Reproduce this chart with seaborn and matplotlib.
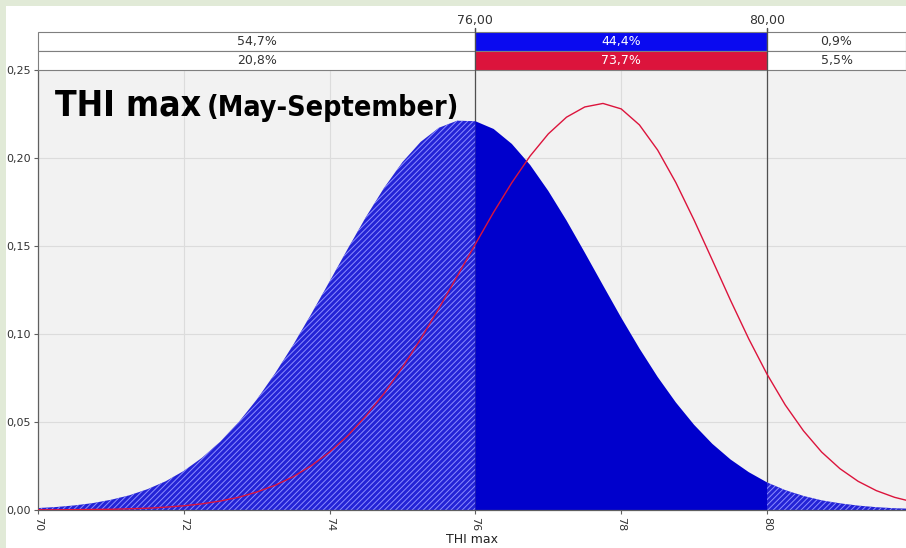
import numpy as np
import pandas as pd
import seaborn as sns
import matplotlib
matplotlib.use("Agg")
import matplotlib.pyplot as plt
from matplotlib.patches import Rectangle
from matplotlib import font_manager as fm

# ---------------- data ----------------
x_values = [70.0, 70.25, 70.5, 70.75, 71.0, 71.25, 71.5, 71.75, 72.0, 72.25, 72.5, 72.75,
            73.0, 73.25, 73.5, 73.75, 74.0, 74.25, 74.5, 74.75, 75.0, 75.25, 75.5, 75.75,
            76.0, 76.25, 76.5, 76.75, 77.0, 77.25, 77.5, 77.75, 78.0, 78.25, 78.5, 78.75,
            79.0, 79.25, 79.5, 79.75, 80.0, 80.25, 80.5, 80.75, 81.0, 81.25, 81.5, 81.75, 82.0]

blue_density = [0.0011, 0.0017, 0.0026, 0.0039, 0.0058, 0.0083, 0.0118, 0.0163, 0.0222, 0.0297,
                0.0388, 0.0498, 0.0627, 0.0775, 0.0938, 0.1115, 0.1299, 0.1485, 0.1666, 0.1832,
                0.1977, 0.2092, 0.2172, 0.2212, 0.2209, 0.2165, 0.2080, 0.1961, 0.1813, 0.1645,
                0.1463, 0.1277, 0.1093, 0.0918, 0.0756, 0.0611, 0.0484, 0.0376, 0.0287, 0.0215,
                0.0157, 0.0113, 0.0080, 0.0055, 0.0038, 0.0025, 0.0016, 0.0010, 0.0007]

red_density = [0.0001, 0.0001, 0.0002, 0.0003, 0.0004, 0.0007, 0.0010, 0.0016, 0.0024, 0.0035,
               0.0051, 0.0072, 0.0102, 0.0140, 0.0189, 0.0252, 0.0329, 0.0423, 0.0535, 0.0664,
               0.0811, 0.0972, 0.1146, 0.1328, 0.1511, 0.1692, 0.1860, 0.2011, 0.2137, 0.2232,
               0.2290, 0.2310, 0.2279, 0.2188, 0.2045, 0.1860, 0.1647, 0.1420, 0.1191, 0.0972,
               0.0772, 0.0597, 0.0450, 0.0329, 0.0235, 0.0163, 0.0110, 0.0072, 0.0046]

cut_low = 76.0
cut_high = 80.0
cut_labels = ["76,00", "80,00"]
blue_pct = ["54,7%", "44,4%", "0,9%"]
red_pct = ["20,8%", "73,7%", "5,5%"]

x_ticks = [70, 72, 74, 76, 78, 80]
x_tick_labels = ["70", "72", "74", "76", "78", "80"]
y_ticks = [0.00, 0.05, 0.10, 0.15, 0.20, 0.25]
y_tick_labels = ["0,00", "0,05", "0,10", "0,15", "0,20", "0,25"]

title_main = "THI max"
title_sub = "(May-September)"
x_label = "THI max"

# ---------------- style ----------------
sns.set_style("white")
plt.rcParams["font.family"] = ["DejaVu Sans"]
plt.rcParams["hatch.linewidth"] = 0.7

W, H = 906, 548
fig = plt.figure(figsize=(W / 100, H / 100), dpi=100)
fig.patch.set_facecolor("white")

# light green frame (top and left)
fig.patches.append(Rectangle((0, 1 - 6 / H), 1, 6 / H, transform=fig.transFigure,
                             facecolor="#e1ead7", edgecolor="none", zorder=0))
fig.patches.append(Rectangle((0, 0), 6 / W, 1, transform=fig.transFigure,
                             facecolor="#e1ead7", edgecolor="none", zorder=0))

ax_left, ax_bottom, ax_top = 38, 510, 70
ax = fig.add_axes([ax_left / W, 1 - ax_bottom / H, 1 - ax_left / W, (ax_bottom - ax_top) / H])
ax.set_facecolor("#f2f2f2")

df = pd.DataFrame({"x": x_values, "blue": blue_density, "red": red_density})
xv = df["x"].to_numpy()
bv = df["blue"].to_numpy()

m_left = xv <= cut_low
m_mid = (xv >= cut_low) & (xv <= cut_high)
m_right = xv >= cut_high

hatch_kw = dict(facecolor="#2323d6", edgecolor="#8c8cff", hatch="//////", linewidth=0, zorder=2)
ax.fill_between(xv[m_left], 0, bv[m_left], **hatch_kw)
ax.fill_between(xv[m_right], 0, bv[m_right], **hatch_kw)
ax.fill_between(xv[m_mid], 0, bv[m_mid], facecolor="#0000cc", edgecolor="none", linewidth=0, zorder=2)

sns.lineplot(data=df, x="x", y="red", color="#dc143c", linewidth=1.0, ax=ax, zorder=4)

xmax = 70 + (W - ax_left) / ((767 - 38) / 10)
ax.set_xlim(70, xmax)
ax.set_ylim(0, 0.25)

# grid
ax.set_axisbelow(True)
for xt in x_ticks:
    ax.axvline(xt, color="#dcdcdc", linewidth=0.8, zorder=0.5)
for yt in y_ticks[1:]:
    ax.axhline(yt, color="#dcdcdc", linewidth=0.8, zorder=0.5)

# ticks
ax.set_xticks(x_ticks)
ax.set_xticklabels(x_tick_labels, rotation=-90)
ax.set_yticks(y_ticks)
ax.set_yticklabels(y_tick_labels)
ax.tick_params(axis="both", length=3, width=0.8, color="#606060", labelsize=8,
               labelcolor="#333333", pad=2, bottom=True, left=True)
ax.set_xlabel(x_label, fontsize=9, color="#222222", labelpad=1)
ax.set_ylabel("")

for side in ["top", "right"]:
    ax.spines[side].set_visible(False)
for side in ["left", "bottom"]:
    ax.spines[side].set_color("#606060")
    ax.spines[side].set_linewidth(0.9)

# band with percentages above the plot
trans = ax.get_xaxis_transform()
ph = ax_bottom - ax_top
row_h = 19 / ph
y_row2 = 1.0
y_row1 = 1.0 + row_h
segments = [(70, cut_low), (cut_low, cut_high), (cut_high, xmax)]
for i, (a, b) in enumerate(segments):
    fc1 = "#0a0af0" if i == 1 else "white"
    fc2 = "#dc143c" if i == 1 else "white"
    tc = "white" if i == 1 else "#333333"
    ax.add_patch(Rectangle((a, y_row1), b - a, row_h, transform=trans, clip_on=False,
                           facecolor=fc1, edgecolor="#7f7f7f", linewidth=0.8, zorder=6))
    ax.add_patch(Rectangle((a, y_row2), b - a, row_h, transform=trans, clip_on=False,
                           facecolor=fc2, edgecolor="#7f7f7f", linewidth=0.8, zorder=6))
    xc = (a + b) / 2
    ax.text(xc, y_row1 + row_h / 2, blue_pct[i], transform=trans, ha="center", va="center",
            fontsize=9, color=tc, zorder=7, clip_on=False)
    ax.text(xc, y_row2 + row_h / 2, red_pct[i], transform=trans, ha="center", va="center",
            fontsize=9, color=tc, zorder=7, clip_on=False)

# cut lines and their labels
for c, lab in zip([cut_low, cut_high], cut_labels):
    ax.plot([c, c], [0, 1 + 2 * row_h + 4 / ph], transform=trans, color="#505050",
            linewidth=0.9, clip_on=False, zorder=1.5)
    ax.plot([c, c], [1, 1 + 2 * row_h + 4 / ph], transform=trans, color="#505050",
            linewidth=0.9, clip_on=False, zorder=8)
    ax.text(c, (ax_bottom - 20) / ph, lab, transform=trans, ha="center", va="center",
            fontsize=9, color="#333333", clip_on=False)

# ---------------- title inside the plot (prefer a condensed bold face) ----------------
def pick_condensed_bold():
    best = None
    for f in fm.fontManager.ttflist:
        nm = f.name.lower()
        fn = f.fname.lower()
        cond = (f.stretch in ("condensed", "semi-condensed", "extra-condensed", "ultra-condensed")
                or "narrow" in nm or "condensed" in nm or "condensed" in fn or "narrow" in fn)
        wt = f.weight if isinstance(f.weight, int) else fm.weight_dict.get(f.weight, 400)
        if cond and wt >= 600 and f.style == "normal":
            best = f.fname
            break
    return best

cond_path = pick_condensed_bold()
if cond_path:
    fp_main = fm.FontProperties(fname=cond_path, size=25.5)
    fp_sub = fm.FontProperties(fname=cond_path, size=20.5)
else:
    fp_main = fm.FontProperties(family=["Roboto", "DejaVu Sans"], weight="bold", size=26)
    fp_sub = fm.FontProperties(family=["Roboto", "DejaVu Sans"], weight="bold", size=21)

base_y = 1 - 116 / H
t1 = fig.text(55 / W, base_y, title_main, fontproperties=fp_main,
              color="black", va="baseline", ha="left", zorder=10)
fig.canvas.draw()
bb = t1.get_window_extent(renderer=fig.canvas.get_renderer())
fig.text((bb.x1 + 6) / W, base_y, title_sub, fontproperties=fp_sub,
         color="black", va="baseline", ha="left", zorder=10)

fig.savefig("out.png", dpi=100)
